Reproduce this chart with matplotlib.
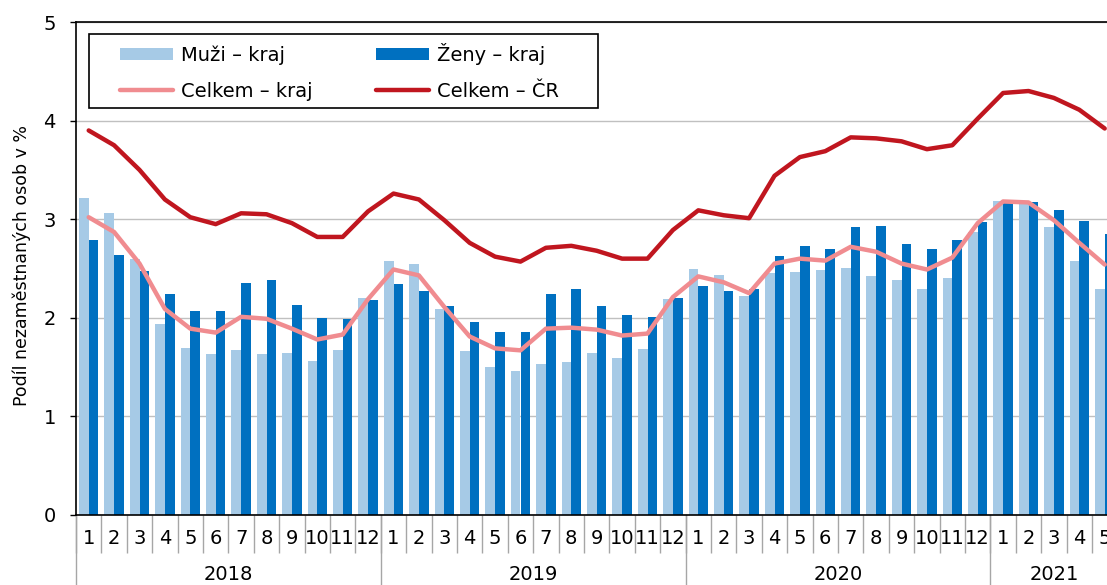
import matplotlib.pyplot as plt
import numpy as np
from matplotlib.patches import Rectangle

years = ['2018', '2019', '2020', '2021']
months = [str(m) for m in range(1, 13)] * 3 + ['1', '2', '3', '4', '5']

# podíl nezaměstnaných osob v %
muzi = [3.22, 3.06, 2.60, 1.94, 1.69, 1.63, 1.67, 1.63, 1.64, 1.56, 1.67, 2.20,
        2.58, 2.55, 2.09, 1.66, 1.50, 1.46, 1.53, 1.55, 1.64, 1.59, 1.68, 2.19,
        2.50, 2.43, 2.22, 2.45, 2.46, 2.48, 2.51, 2.42, 2.38, 2.29, 2.40, 2.87,
        3.18, 3.18, 2.92, 2.58, 2.29]
zeny = [2.79, 2.64, 2.47, 2.24, 2.07, 2.07, 2.35, 2.38, 2.13, 2.00, 1.99, 2.18,
        2.34, 2.27, 2.12, 1.96, 1.86, 1.86, 2.24, 2.29, 2.12, 2.03, 2.01, 2.20,
        2.32, 2.27, 2.29, 2.63, 2.73, 2.70, 2.92, 2.93, 2.75, 2.70, 2.79, 2.97,
        3.18, 3.17, 3.09, 2.98, 2.85]
celkem_kraj = [3.02, 2.87, 2.55, 2.09, 1.89, 1.85, 2.01, 1.99, 1.89, 1.78, 1.83, 2.19,
               2.49, 2.43, 2.11, 1.81, 1.69, 1.67, 1.89, 1.90, 1.88, 1.82, 1.84, 2.21,
               2.42, 2.36, 2.25, 2.55, 2.60, 2.58, 2.72, 2.67, 2.55, 2.49, 2.61, 2.96,
               3.18, 3.17, 2.99, 2.76, 2.54]
celkem_cr = [3.90, 3.75, 3.50, 3.20, 3.02, 2.95, 3.06, 3.05, 2.96, 2.82, 2.82, 3.08,
             3.26, 3.20, 2.99, 2.76, 2.62, 2.57, 2.71, 2.73, 2.68, 2.60, 2.60, 2.89,
             3.09, 3.04, 3.01, 3.44, 3.63, 3.69, 3.83, 3.82, 3.79, 3.71, 3.75, 4.02,
             4.28, 4.30, 4.23, 4.11, 3.92]

n = len(months)
x = np.arange(n)

fig = plt.figure(figsize=(11.07, 5.85), dpi=100)
# osa přesahuje pravý okraj obrázku (jako v originálu)
ax = fig.add_axes([76 / 1107, 70 / 585, 41 * 25.4 / 1107, 493 / 585])

w = 0.38
b1 = ax.bar(x - 0.19, muzi, w, color='#A6CAE6', zorder=2, label='Muži – kraj')
b2 = ax.bar(x + 0.19, zeny, w, color='#0070C0', zorder=2, label='Ženy – kraj')
l1, = ax.plot(x, celkem_kraj, color='#F08C90', lw=3.2, zorder=3,
              solid_capstyle='round', label='Celkem – kraj')
l2, = ax.plot(x, celkem_cr, color='#C0161F', lw=3.2, zorder=4,
              solid_capstyle='round', label='Celkem – ČR')

ax.set_xlim(-0.5, n - 0.5)
ax.set_ylim(0, 5)
ax.set_yticks(range(6))
ax.grid(axis='y', color='#C0C0C0', lw=1, zorder=0)
ax.set_axisbelow(True)
for s in ['left', 'bottom', 'top']:
    ax.spines[s].set_color('black')
    ax.spines[s].set_linewidth(1.2)
ax.spines['right'].set_visible(False)

ax.tick_params(axis='y', length=4.5, width=1, pad=10, labelsize=14)
ax.set_xticks(x)
ax.set_xticklabels(months)
ax.tick_params(axis='x', which='major', length=0, pad=10, labelsize=14)
ax.set_xticks(np.arange(-0.5, n), minor=True)
ax.tick_params(axis='x', which='minor', length=27, width=1, color='#A6A6A6')

trans = ax.get_xaxis_transform()
starts = [0, 12, 24, 36]
for i, yr in enumerate(years):
    s = starts[i]
    e = starts[i + 1] if i + 1 < len(starts) else n
    ax.plot([s - 0.5, s - 0.5], [0, -0.16], color='#A6A6A6', lw=1,
            transform=trans, clip_on=False)
    ax.text((s + e - 1) / 2, -59 / 493, yr, transform=trans, ha='center',
            va='center', fontsize=14)

ax.set_ylabel('Podíl nezaměstnaných osob v %', fontsize=12.5)
ax.yaxis.label.set_va('center')
ax.yaxis.set_label_coords(-0.052, 0.507)

# rámeček legendy
ax.add_patch(Rectangle((13 / 1041.4, (515 - 108) / 493), (598 - 89) / 1041.4, 74 / 493,
                       transform=ax.transAxes, facecolor='white', edgecolor='black',
                       lw=1.2, zorder=5))
leg = ax.legend([b1, l1, b2, l2], ['Muži – kraj', 'Celkem – kraj', 'Ženy – kraj', 'Celkem – ČR'],
                ncol=2, loc='upper left', bbox_to_anchor=(44 / 1041.4, (515 - 43) / 493),
                frameon=False, fontsize=14, handlelength=2.7, handleheight=0.55,
                handletextpad=0.45, columnspacing=3.25, labelspacing=0.85,
                borderaxespad=0, borderpad=0)
leg.set_zorder(6)

fig.savefig('out.png', dpi=100)
